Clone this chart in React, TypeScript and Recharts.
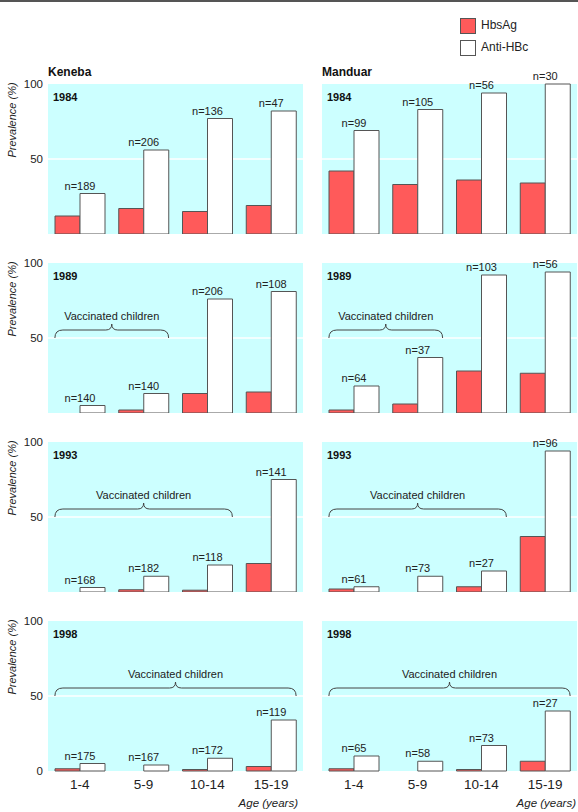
import React from "react";
import { BarChart, Bar, XAxis, YAxis, CartesianGrid, ReferenceLine, LabelList } from "recharts";

// age groups on the x axis
const ageGroups = ["1-4", "5-9", "10-14", "15-19"];
const yTicks = [0, 50, 100];

// Keneba — prevalence (%) by age group
const kenebaHbsAg1984 = [12, 17, 15, 19];
const kenebaAntiHBc1984 = [27, 56, 77, 82];
const kenebaN1984 = [189, 206, 136, 47];

const kenebaHbsAg1989 = [0, 2, 13, 14];
const kenebaAntiHBc1989 = [5, 13, 76, 81];
const kenebaN1989 = [140, 140, 206, 108];

const kenebaHbsAg1993 = [0, 1.5, 1.2, 19];
const kenebaAntiHBc1993 = [3, 10.5, 18, 75];
const kenebaN1993 = [168, 182, 118, 141];

const kenebaHbsAg1998 = [1.5, 0, 1, 3];
const kenebaAntiHBc1998 = [5, 4, 8.5, 34];
const kenebaN1998 = [175, 167, 172, 119];

// Manduar
const manduarHbsAg1984 = [42, 33, 36, 34];
const manduarAntiHBc1984 = [69, 83, 94, 100];
const manduarN1984 = [99, 105, 56, 30];

const manduarHbsAg1989 = [2, 6, 28, 26.5];
const manduarAntiHBc1989 = [18, 37, 92, 94];
const manduarN1989 = [64, 37, 103, 56];

const manduarHbsAg1993 = [2, 0, 3.5, 37];
const manduarAntiHBc1993 = [3.5, 10.5, 14, 94];
const manduarN1993 = [61, 73, 27, 96];

const manduarHbsAg1998 = [1.5, 0, 1, 6.5];
const manduarAntiHBc1998 = [10, 6.5, 17, 40];
const manduarN1998 = [65, 58, 73, 27];

// how many youngest age groups were vaccinated, per survey year
const years = ["1984", "1989", "1993", "1998"];
const vaccinatedGroups = [0, 2, 3, 4];

const FONT = '"Liberation Sans", Arial, sans-serif';
const RED = "#FF5A5A";
const CYAN = "#CCFFFF";
const EDGE = "#555";

const rowTops = [84, 263, 442, 621];
const PLOT_H = 150;
const BAR_W = 25;

const keneba = [
  [kenebaHbsAg1984, kenebaAntiHBc1984, kenebaN1984],
  [kenebaHbsAg1989, kenebaAntiHBc1989, kenebaN1989],
  [kenebaHbsAg1993, kenebaAntiHBc1993, kenebaN1993],
  [kenebaHbsAg1998, kenebaAntiHBc1998, kenebaN1998],
];
const manduar = [
  [manduarHbsAg1984, manduarAntiHBc1984, manduarN1984],
  [manduarHbsAg1989, manduarAntiHBc1989, manduarN1989],
  [manduarHbsAg1993, manduarAntiHBc1993, manduarN1993],
  [manduarHbsAg1998, manduarAntiHBc1998, manduarN1998],
];

// curly brace over the vaccinated age groups
const Brace = (props: any) => {
  const { x1, x2, y1 } = props;
  if (x1 == null || x2 == null) return null;
  const xl = x1 - BAR_W;
  const xr = x2 + BAR_W;
  const xc = (xl + xr) / 2;
  const y = y1;
  const d = `M${xl},${y} Q${xl},${y - 8} ${xl + 8},${y - 8} L${xc - 6},${y - 8} Q${xc},${y - 8} ${xc},${y - 14} Q${xc},${y - 8} ${xc + 6},${y - 8} L${xr - 8},${y - 8} Q${xr},${y - 8} ${xr},${y}`;
  return (
    <g>
      <path d={d} fill="none" stroke="#444" strokeWidth={1} />
      <text x={xc} y={y - 18} textAnchor="middle" fontSize={11} fontFamily={FONT} fill="#222">
        Vaccinated children
      </text>
    </g>
  );
};

const NLabel = (props: any) => {
  const { x, y, value } = props;
  return (
    <text x={x} y={y - 4} textAnchor="middle" fontSize={11} fontFamily={FONT} fill="#222">
      {value}
    </text>
  );
};

function Panel({ series, row, left, width, marginLeft, showY }: any) {
  const [hbsag, anti, n] = series;
  const data = ageGroups.map((age, i) => ({ age, hbsag: hbsag[i], anti: anti[i], n: `n=${n[i]}` }));
  const bottom = row === 3;
  const topPad = 20;
  const height = topPad + PLOT_H + (bottom ? 30 : 0);
  const vac = vaccinatedGroups[row];
  return (
    <div style={{ position: "absolute", left, top: rowTops[row] - topPad, width, height }}>
      <BarChart
        width={width}
        height={height}
        data={data}
        margin={{ top: topPad, right: 1, left: marginLeft, bottom: 0 }}
        barGap={0}
        barSize={BAR_W}
      >
        <CartesianGrid fill={CYAN} stroke="#fff" strokeWidth={1.5} vertical={false} horizontalValues={[50]} />
        <XAxis
          dataKey="age"
          hide={!bottom}
          axisLine={false}
          tickLine={false}
          interval={0}
          height={30}
          tick={{ fontSize: 13.5, fill: "#222", fontFamily: FONT }}
        />
        <YAxis
          domain={[0, 100]}
          ticks={yTicks}
          hide={!showY}
          width={30}
          axisLine={false}
          tickLine={false}
          tickSize={3}
          tick={{ fontSize: 11.5, fill: "#222", fontFamily: FONT }}
        />
        <Bar dataKey="hbsag" fill={RED} stroke={EDGE} strokeWidth={1} isAnimationActive={false} />
        <Bar dataKey="anti" fill="#fff" stroke={EDGE} strokeWidth={1} isAnimationActive={false}>
          <LabelList dataKey="n" content={NLabel} />
        </Bar>
        {vac > 0 && (
          <ReferenceLine
            segment={[
              { x: ageGroups[0], y: 50 },
              { x: ageGroups[vac - 1], y: 50 },
            ]}
            shape={Brace}
          />
        )}
      </BarChart>
      <div
        style={{
          position: "absolute",
          left: (showY ? 48 : 12) + 5,
          top: topPad + 7,
          fontSize: 11,
          fontWeight: "bold",
          fontFamily: FONT,
          color: "#111",
        }}
      >
        {years[row]}
      </div>
    </div>
  );
}

export default function App() {
  const text = { position: "absolute" as const, fontFamily: FONT, color: "#222", whiteSpace: "nowrap" as const };
  return (
    <div style={{ position: "absolute", left: 0, top: 0, width: 578, height: 812, background: "#fff", fontFamily: FONT }}>
      <div style={{ position: "absolute", left: 0, top: 0, width: 578, height: 2, background: "#555" }} />

      {/* legend */}
      <div style={{ position: "absolute", left: 460, top: 18, width: 14, height: 14, background: RED, border: `1px solid ${EDGE}` }} />
      <div style={{ ...text, left: 481, top: 18, fontSize: 12 }}>HbsAg</div>
      <div style={{ position: "absolute", left: 460, top: 40, width: 14, height: 14, background: "#fff", border: `1px solid ${EDGE}` }} />
      <div style={{ ...text, left: 481, top: 40, fontSize: 12 }}>Anti-HBc</div>

      <div style={{ ...text, left: 48, top: 65, fontSize: 12, fontWeight: "bold", color: "#111" }}>Keneba</div>
      <div style={{ ...text, left: 322, top: 65, fontSize: 12, fontWeight: "bold", color: "#111" }}>Manduar</div>

      {keneba.map((s, row) => (
        <Panel key={`k${row}`} series={s} row={row} left={0} width={304} marginLeft={18} showY />
      ))}
      {manduar.map((s, row) => (
        <Panel key={`m${row}`} series={s} row={row} left={310} width={268} marginLeft={12} showY={false} />
      ))}

      {rowTops.map((t) => (
        <div
          key={`p${t}`}
          style={{
            ...text,
            left: 12,
            top: t + 36,
            fontSize: 11,
            fontStyle: "italic",
            transform: "translate(-50%, -50%) rotate(-90deg)",
          }}
        >
          Prevalence (%)
        </div>
      ))}

      <div style={{ ...text, right: 578 - 298, top: 797, fontSize: 11.5, fontStyle: "italic" }}>Age (years)</div>
      <div style={{ ...text, right: 2, top: 797, fontSize: 11.5, fontStyle: "italic" }}>Age (years)</div>
    </div>
  );
}
